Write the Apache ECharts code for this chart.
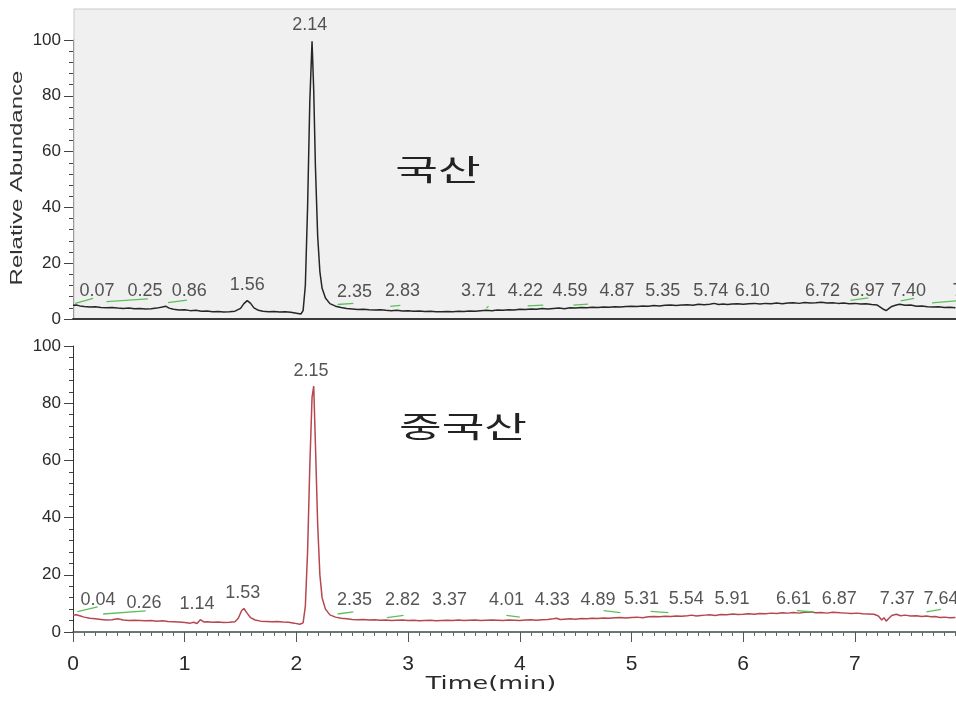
<!DOCTYPE html>
<html><head><meta charset="utf-8">
<script src="https://cdn.jsdelivr.net/npm/echarts@6/dist/echarts.min.js"></script>
<style>html,body{margin:0;padding:0;background:#fff}#c{width:956px;height:704px}</style>
</head><body><div id="c"></div>
<script>
// ---- data (time in min, relative abundance in %) ----
const topTrace = [[0.00,4.9],[0.03,5.0],[0.06,4.7],[0.10,4.5],[0.15,4.3],[0.20,4.4],[0.25,4.1],[0.30,4.0],[0.35,4.1],[0.40,3.9],[0.45,3.8],[0.50,3.9],[0.55,3.7],[0.60,3.8],[0.65,3.6],[0.70,3.7],[0.75,3.9],[0.80,4.3],[0.83,4.6],[0.86,3.9],[0.90,3.5],[0.95,3.2],[1.00,3.3],[1.05,3.0],[1.10,3.1],[1.15,2.8],[1.20,2.9],[1.25,2.6],[1.30,2.7],[1.35,2.5],[1.40,2.6],[1.45,2.8],[1.50,3.8],[1.53,5.5],[1.56,6.6],[1.59,5.6],[1.62,4.0],[1.66,3.1],[1.70,2.8],[1.75,2.6],[1.80,2.7],[1.85,2.5],[1.90,2.6],[1.95,2.4],[2.00,2.1],[2.04,1.8],[2.06,3.0],[2.08,12],[2.10,40],[2.12,78],[2.14,99.5],[2.155,82],[2.17,55],[2.19,30],[2.21,17],[2.23,11],[2.26,7.5],[2.30,5.5],[2.35,4.6],[2.40,4.1],[2.45,3.8],[2.50,3.6],[2.55,3.4],[2.60,3.5],[2.65,3.3],[2.70,3.2],[2.75,3.3],[2.80,3.1],[2.85,3.0],[2.90,3.1],[2.95,2.9],[3.00,3.0],[3.05,2.8],[3.10,2.9],[3.15,2.7],[3.20,2.8],[3.25,2.6],[3.30,2.6],[3.35,2.7],[3.40,2.6],[3.45,2.8],[3.50,2.7],[3.55,2.9],[3.60,2.8],[3.65,3.0],[3.70,3.1],[3.75,3.0],[3.80,3.2],[3.85,3.1],[3.90,3.3],[3.95,3.2],[4.00,3.5],[4.05,3.4],[4.10,3.6],[4.15,3.5],[4.20,3.8],[4.25,3.6],[4.30,3.8],[4.35,3.9],[4.40,3.7],[4.45,4.0],[4.50,3.9],[4.55,4.1],[4.60,4.0],[4.65,4.2],[4.70,4.1],[4.75,4.3],[4.80,4.2],[4.85,4.4],[4.90,4.3],[4.95,4.5],[5.00,4.6],[5.05,4.5],[5.10,4.7],[5.15,4.6],[5.20,4.8],[5.25,4.7],[5.30,4.9],[5.35,5.0],[5.40,4.8],[5.45,5.0],[5.50,5.1],[5.55,4.9],[5.60,5.3],[5.65,5.1],[5.70,5.3],[5.74,5.6],[5.78,5.2],[5.82,5.4],[5.86,5.2],[5.90,5.4],[5.95,5.5],[6.00,5.3],[6.05,5.5],[6.10,5.6],[6.15,5.4],[6.20,5.6],[6.25,5.5],[6.30,5.7],[6.35,5.5],[6.40,5.7],[6.45,5.8],[6.50,5.6],[6.55,5.9],[6.60,5.7],[6.65,5.8],[6.70,6.0],[6.75,5.7],[6.80,5.8],[6.85,5.6],[6.90,5.7],[6.95,5.5],[7.00,5.6],[7.05,5.4],[7.10,5.5],[7.15,5.2],[7.20,5.0],[7.23,4.2],[7.26,3.4],[7.28,3.0],[7.30,3.6],[7.33,4.5],[7.37,5.0],[7.40,5.3],[7.45,4.9],[7.50,5.0],[7.55,4.6],[7.60,4.7],[7.65,4.4],[7.70,4.3],[7.75,4.4],[7.80,4.1],[7.85,4.2],[7.90,4.0]];

const bottomTrace = [[0.00,5.9],[0.03,6.0],[0.06,5.7],[0.10,5.2],[0.15,4.8],[0.20,4.6],[0.25,4.4],[0.30,4.2],[0.35,4.3],[0.40,4.6],[0.45,4.2],[0.50,4.0],[0.55,4.1],[0.60,4.0],[0.65,3.9],[0.70,4.0],[0.75,3.8],[0.80,3.9],[0.85,3.7],[0.90,3.6],[0.95,3.5],[1.00,3.3],[1.05,3.1],[1.08,3.4],[1.11,3.0],[1.14,4.3],[1.17,3.5],[1.20,3.6],[1.25,3.4],[1.30,3.5],[1.35,3.3],[1.40,3.4],[1.45,3.6],[1.48,4.8],[1.51,7.5],[1.53,8.2],[1.56,6.5],[1.59,5.0],[1.63,4.2],[1.68,3.8],[1.73,3.7],[1.78,3.6],[1.83,3.7],[1.88,3.5],[1.93,3.4],[1.98,3.1],[2.03,2.7],[2.06,3.2],[2.08,9],[2.10,28],[2.12,58],[2.14,82],[2.155,86],[2.17,66],[2.19,38],[2.21,20],[2.23,12],[2.26,8],[2.30,6],[2.35,5.2],[2.40,4.8],[2.45,4.6],[2.50,4.4],[2.55,4.3],[2.60,4.4],[2.65,4.2],[2.70,4.3],[2.75,4.1],[2.80,4.2],[2.85,4.0],[2.90,4.1],[2.95,4.2],[3.00,4.0],[3.05,4.1],[3.10,3.9],[3.15,4.0],[3.20,4.1],[3.25,3.9],[3.30,4.0],[3.35,4.1],[3.40,4.0],[3.45,4.2],[3.50,4.0],[3.55,4.1],[3.60,4.2],[3.65,4.0],[3.70,4.1],[3.75,4.2],[3.80,4.1],[3.85,4.0],[3.90,4.2],[3.95,4.1],[4.00,4.0],[4.05,4.2],[4.10,4.3],[4.15,4.1],[4.20,4.3],[4.25,4.4],[4.30,4.6],[4.33,4.8],[4.36,4.4],[4.40,4.5],[4.45,4.6],[4.50,4.5],[4.55,4.7],[4.60,4.6],[4.65,4.8],[4.70,4.7],[4.75,4.9],[4.80,4.8],[4.85,5.0],[4.90,5.1],[4.95,4.9],[5.00,5.1],[5.05,5.2],[5.10,5.0],[5.15,5.3],[5.20,5.4],[5.25,5.3],[5.30,5.5],[5.35,5.4],[5.40,5.6],[5.45,5.5],[5.50,5.7],[5.54,5.9],[5.58,5.6],[5.62,5.8],[5.66,5.9],[5.70,6.0],[5.75,5.8],[5.80,6.1],[5.85,6.0],[5.91,6.3],[5.95,6.1],[6.00,6.2],[6.05,6.4],[6.10,6.2],[6.15,6.5],[6.20,6.4],[6.25,6.6],[6.30,6.5],[6.35,6.7],[6.40,6.6],[6.45,6.8],[6.50,6.6],[6.55,6.9],[6.61,7.0],[6.65,6.7],[6.70,6.8],[6.75,6.6],[6.80,6.9],[6.87,6.7],[6.92,6.6],[6.97,6.5],[7.02,6.6],[7.07,6.4],[7.12,6.3],[7.17,6.2],[7.21,5.6],[7.24,4.2],[7.26,5.0],[7.28,3.8],[7.30,4.6],[7.33,5.8],[7.37,6.2],[7.41,5.7],[7.45,5.9],[7.50,5.6],[7.55,5.7],[7.60,5.4],[7.64,5.6],[7.68,5.3],[7.72,5.4],[7.76,5.1],[7.80,5.2],[7.85,5.0],[7.90,5.1]];

// peak annotation texts, where each label sits (min) and at what abundance level
const topPeakNames  = ['0.07','0.25','0.86','1.56','2.14','2.35','2.83','3.71','4.22','4.59','4.87','5.35','5.74','6.10','6.72','6.97','7.40','7.66'];
const topPeakAt     = [0.215,0.645,1.04,1.56,2.12,2.52,2.95,3.63,4.05,4.45,4.87,5.28,5.71,6.08,6.71,7.11,7.48,8.03];
const topPeakLevel  = [10.1,10.1,10.1,12.2,105.4,9.6,10.0,10.0,10.0,10.0,10.0,10.0,10.0,10.0,10.0,10.0,10.0,10.0];

const bottomPeakNames = ['0.04','0.26','1.14','1.53','2.15','2.35','2.82','3.37','4.01','4.33','4.89','5.31','5.54','5.91','6.61','6.87','7.37','7.64'];
const bottomPeakAt    = [0.224,0.636,1.11,1.52,2.13,2.52,2.95,3.37,3.88,4.29,4.70,5.09,5.49,5.90,6.45,6.86,7.38,7.77];
const bottomPeakLevel = [11.2,10.1,9.8,13.6,91.3,11.2,11.2,11.2,11.2,11.2,11.2,11.5,11.5,11.5,11.5,11.5,11.5,11.5];

// integration baseline segments (green)
const topBaselines = [
  [[0.02,5.6],[0.18,7.4]], [[0.30,6.2],[0.67,7.2]], [[0.85,5.9],[1.02,6.8]],
  [[2.37,5.2],[2.51,5.6]], [[2.84,4.5],[2.93,4.9]], [[3.70,3.9],[3.72,4.6]],
  [[4.07,4.7],[4.21,5.0]], [[4.48,5.0],[4.61,5.3]], [[6.96,6.7],[7.12,7.6]],
  [[7.41,6.5],[7.53,7.4]], [[7.69,5.8],[7.91,6.5]]
];
const bottomBaselines = [
  [[0.04,7.1],[0.22,8.8]], [[0.27,6.3],[0.65,7.4]], [[2.37,6.3],[2.51,7.0]],
  [[2.81,5.0],[2.96,5.8]], [[3.88,5.8],[4.00,5.2]], [[4.75,7.5],[4.90,6.8]],
  [[5.17,7.2],[5.33,6.8]], [[6.48,7.5],[6.63,7.0]], [[7.64,7.0],[7.77,7.9]]
];

const panelNames = ['국산', '중국산'];
const yTitle = 'Relative Abundance';
const xTitle = 'Time(min)';

// ---- chart ----
const chart = echarts.init(document.getElementById('c'), null, {renderer: 'canvas'});
const XMAX = 7.905;
const labelFont = 'Liberation Sans, Arial, sans-serif';

function yAxisCfg(gi, lineColor) {
  return {
    type: 'value', gridIndex: gi, min: 0, max: 100, interval: 20,
    axisLine: {show: true, lineStyle: {color: lineColor, width: 1}},
    axisTick: {show: true, length: 9, lineStyle: {color: '#444'}},
    minorTick: {show: true, splitNumber: 5, length: 4, lineStyle: {color: '#444'}},
    axisLabel: {fontSize: 17, color: '#2a2a2a', margin: 12, fontFamily: labelFont},
    splitLine: {show: false}
  };
}

function peakSeries(names, at, level, xi) {
  return {
    type: 'scatter', xAxisIndex: xi, yAxisIndex: xi, clip: false, silent: true,
    symbolSize: 1, itemStyle: {color: 'rgba(0,0,0,0)'},
    label: {show: true, position: 'inside', formatter: p => p.name,
            fontSize: 18, color: '#2a2a2a', fontFamily: labelFont},
    data: names.map((n, i) => ({name: n, value: [at[i], level[i]]})),
    z: 5
  };
}

function baselineSeries(segs, xi) {
  return segs.map(s => ({
    type: 'line', xAxisIndex: xi, yAxisIndex: xi, data: s, showSymbol: false,
    silent: true, lineStyle: {color: '#5dbf5b', width: 1.3}, z: 4
  }));
}

const option = {
  animation: false,
  backgroundColor: '#ffffff',
  grid: [
    {left: 73, right: 0, top: 40, height: 279},
    {left: 73, right: 0, top: 346, height: 286}
  ],
  xAxis: [
    {type: 'value', gridIndex: 0, min: 0, max: XMAX, interval: 1,
     axisLine: {show: true, onZero: false, lineStyle: {color: '#3a3a3a', width: 2}},
     axisTick: {show: false}, axisLabel: {show: false}, splitLine: {show: false}},
    {type: 'value', gridIndex: 1, min: 0, max: XMAX, interval: 1,
     axisLine: {show: true, onZero: false, lineStyle: {color: '#3b4b49', width: 1.5}},
     axisTick: {show: true, length: 10, lineStyle: {color: '#555'}},
     minorTick: {show: true, splitNumber: 10, length: 4, lineStyle: {color: '#666'}},
     axisLabel: {fontSize: 21, color: '#2a2a2a', margin: 22, fontFamily: labelFont,
                 showMaxLabel: false},
     splitLine: {show: false}}
  ],
  yAxis: [yAxisCfg(0, '#9a9a9a'), yAxisCfg(1, '#333')],
  graphic: [
    {type: 'rect', z: -10, silent: true,
     shape: {x: 74, y: 9, width: 900, height: 310},
     style: {fill: '#f0f0f0', stroke: '#c9c9c9', lineWidth: 1}},
    {type: 'text', x: 438, y: 170, scaleX: 1.6, silent: true,
     style: {text: panelNames[0], font: '29px "Noto Sans CJK KR"', fill: '#222',
             textAlign: 'center', textVerticalAlign: 'middle'}},
    {type: 'text', x: 463, y: 427, scaleX: 1.6, silent: true,
     style: {text: panelNames[1], font: '29px "Noto Sans CJK KR"', fill: '#222',
             textAlign: 'center', textVerticalAlign: 'middle'}},
    {type: 'text', x: 18, y: 178, rotation: Math.PI / 2, scaleX: 1.5, silent: true,
     style: {text: yTitle, font: '16px "Liberation Sans"', fill: '#333',
             textAlign: 'center', textVerticalAlign: 'middle'}},
    {type: 'text', x: 491, y: 685, scaleX: 1.5, silent: true,
     style: {text: xTitle, font: '17px "DejaVu Sans"', fill: '#2a2a2a',
             textAlign: 'center', textVerticalAlign: 'middle'}}
  ],
  series: [
    {type: 'line', xAxisIndex: 0, yAxisIndex: 0, data: topTrace, showSymbol: false,
     silent: true, lineStyle: {color: '#262626', width: 1.5}, z: 3},
    {type: 'line', xAxisIndex: 1, yAxisIndex: 1, data: bottomTrace, showSymbol: false,
     silent: true, lineStyle: {color: '#b5474f', width: 1.5}, z: 3},
    ...baselineSeries(topBaselines, 0),
    ...baselineSeries(bottomBaselines, 1),
    peakSeries(topPeakNames, topPeakAt, topPeakLevel, 0),
    peakSeries(bottomPeakNames, bottomPeakAt, bottomPeakLevel, 1)
  ]
};
chart.setOption(option);
</script>
</body></html>
